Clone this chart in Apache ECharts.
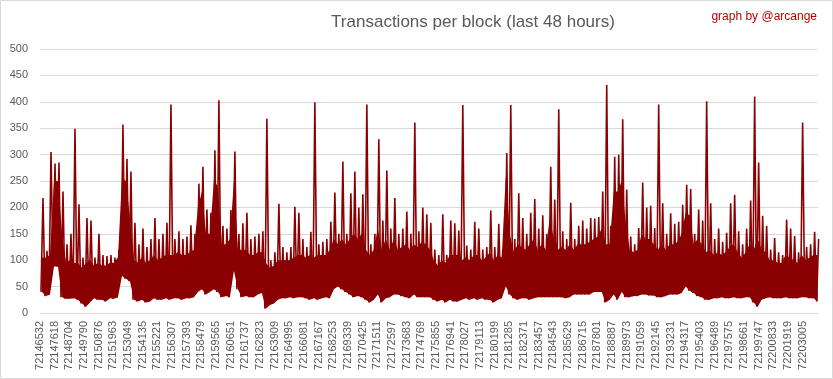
<!DOCTYPE html>
<html><head><meta charset="utf-8">
<script src="https://cdn.jsdelivr.net/npm/echarts@6/dist/echarts.min.js"></script>
<style>html,body{margin:0;padding:0;background:#fff}#c{width:833px;height:379px}</style>
</head><body><div id="c"></div><script>
// block range shown (last 48 hours)
const firstBlock = 72146532;
const lastBlock = 72204132;
const blocksPerColumn = 296;

// x-axis tick labels (block numbers)
const tickLabels = [72146532,72147618,72148704,72149790,72150876,72151963,72153049,72154135,72155221,72156307,72157393,72158479,72159565,72160651,72161737,72162823,72163909,72164995,72166081,72167167,72168253,72169339,72170425,72171511,72172597,72173683,72174769,72175855,72176941,72178027,72179113,72180199,72181285,72182371,72183457,72184543,72185629,72186715,72187801,72188887,72189973,72191059,72192145,72193231,72194317,72195403,72196489,72197575,72198661,72199747,72200833,72201919,72203005];

// per-column maximum transactions per block
const highs = [218,118,305,283,285,230,130,150,349,206,105,180,175,105,150,110,108,110,105,120,357,292,268,171,130,160,125,140,180,140,150,171,395,140,155,140,145,166,150,245,277,196,190,308,403,165,160,195,
306,150,170,190,140,145,150,155,368,100,115,207,125,115,125,201,190,140,125,154,399,130,135,140,173,228,150,287,150,227,268,200,225,395,130,150,329,175,270,160,218,150,160,192,150,361,155,200,187,
171,120,110,187,110,175,170,156,394,128,120,173,160,120,125,194,125,169,120,303,394,140,227,180,150,190,216,160,185,150,277,215,386,155,140,209,140,165,175,160,180,179,182,230,432,165,296,300,367,
234,145,130,161,247,200,203,161,395,208,150,189,169,173,205,243,235,150,196,175,401,208,140,160,135,152,208,224,155,130,160,213,410,285,184,165,120,142,115,110,177,160,146,115,361,125,130,154,140];

// per-column level up to which the dense band is solid
const body = [105,105,110,250,250,150,95,100,95,95,85,95,100,90,95,90,90,95,95,105,255,250,180,100,95,105,95,100,110,100,105,110,110,110,115,110,110,115,120,200,230,150,150,250,240,130,130,140,
250,120,120,120,110,110,115,115,95,85,90,100,100,100,100,105,110,110,105,110,105,110,110,110,120,140,130,140,130,140,150,140,150,120,110,120,160,120,140,120,140,120,125,130,120,130,125,135,130,
120,100,90,100,95,110,110,110,100,105,100,110,110,100,105,115,100,110,105,260,150,115,130,125,120,130,140,120,130,120,180,140,120,125,120,130,120,130,130,130,135,140,145,160,130,130,230,230,250,
170,120,115,120,150,140,140,130,120,130,120,130,130,135,150,190,185,130,140,130,115,120,110,115,110,115,125,130,115,105,115,130,120,140,120,115,100,100,95,95,110,105,100,95,110,100,105,110,110];

// per-column minimum transactions per block
const lows = [40,32,35,88,88,30,27,27,28,25,18,12,20,28,25,25,22,28,27,30,70,65,60,25,22,25,20,22,28,25,25,28,25,28,28,25,28,28,30,40,45,35,40,45,40,30,32,30,
80,45,30,32,30,30,35,38,8,15,18,25,28,28,30,28,30,30,28,25,28,25,28,30,28,45,50,45,40,35,30,32,30,25,20,25,35,20,28,30,35,35,32,30,28,35,30,30,30,
30,25,22,25,20,25,22,22,25,28,25,28,25,28,25,25,20,25,28,50,35,28,25,28,28,25,28,30,30,30,30,30,30,30,28,30,35,35,35,35,35,40,40,40,20,25,35,25,40,
30,30,32,32,35,35,33,33,30,30,32,35,35,35,38,50,42,38,32,30,25,25,28,28,30,28,28,30,28,28,30,30,20,12,25,28,30,28,28,28,30,28,28,28,30,30,28,28,22];

const zigzag = [];
for (let i = 0; i < highs.length; i++) {
  const b = firstBlock + i * blocksPerColumn;
  zigzag.push([b + blocksPerColumn * 0.25, lows[i]]);
  zigzag.push([b + blocksPerColumn * 0.75, highs[i]]);
}

const red = '#8b0000';
const chart = echarts.init(document.getElementById('c'), null, {renderer: 'canvas'});
const txt = '#595959';

// band between the per-column minimum and the solid level, drawn through the axes
function renderBand(params, api) {
  const top = [], bottom = [];
  for (let i = 0; i < body.length; i++) {
    const x = firstBlock + (i + 0.5) * blocksPerColumn;
    top.push(api.coord([x, body[i]]));
    bottom.push(api.coord([x, lows[i]]));
  }
  const pts = top.concat(bottom.reverse());
  return {type: 'polygon', shape: {points: pts}, style: {fill: red}, silent: true};
}

chart.setOption({
  animation: false,
  backgroundColor: '#ffffff',
  title: [
    {text: 'Transactions per block (last 48 hours)', left: 468, top: 9, textAlign: 'center',
     textStyle: {fontFamily: 'Liberation Sans', fontSize: 17, fontWeight: 'normal', color: txt}},
    {text: 'graph by @arcange', right: 11, top: 6,
     textStyle: {fontFamily: 'Liberation Sans', fontSize: 12, fontWeight: 'normal', color: '#c00000'}}
  ],
  graphic: [{type: 'rect', shape: {x: 0.5, y: 0.5, width: 832, height: 378}, style: {fill: 'none', stroke: '#d9d9d9', lineWidth: 1}, silent: true}],
  grid: {left: 40, right: 15, top: 49, bottom: 66, containLabel: false},
  xAxis: {
    type: 'value', min: firstBlock, max: lastBlock,
    axisLine: {show: true, lineStyle: {color: '#d9d9d9'}},
    axisTick: {show: false},
    splitLine: {show: false},
    axisLabel: {customValues: tickLabels, rotate: 90, margin: 8, fontFamily: 'Liberation Sans', fontSize: 11, color: txt,
      formatter: v => String(v)}
  },
  yAxis: {
    type: 'value', min: 0, max: 500, interval: 50,
    axisLine: {show: false}, axisTick: {show: false},
    splitLine: {lineStyle: {color: '#d9d9d9', width: 1}},
    axisLabel: {margin: 12, fontFamily: 'Liberation Sans', fontSize: 11, color: txt}
  },
  series: [
    {type: 'custom', renderItem: renderBand, data: [[firstBlock, 0]], clip: true, silent: true},
    {type: 'line', data: zigzag, showSymbol: false, symbol: 'none',
     lineStyle: {color: red, width: 1.6, join: 'miter'}, itemStyle: {color: red}}
  ]
});
</script></body></html>
